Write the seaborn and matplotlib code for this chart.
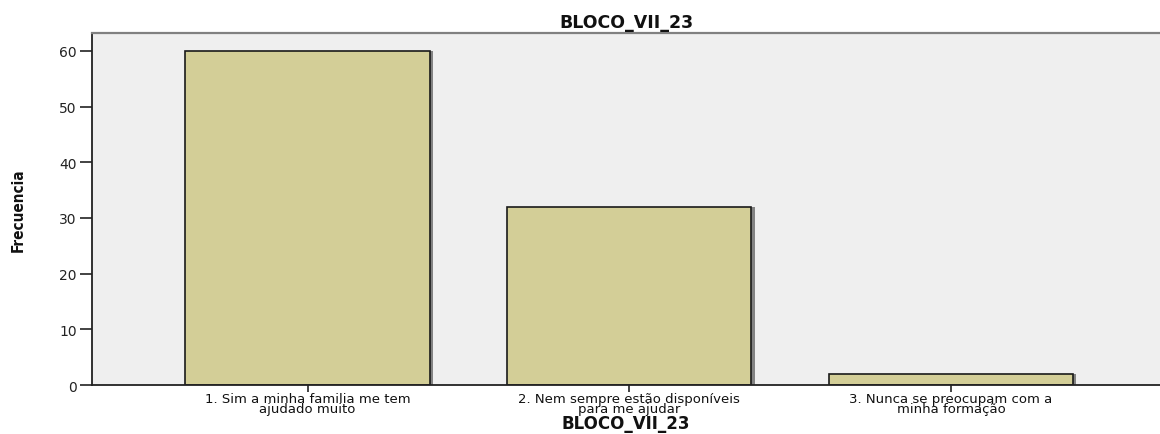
import matplotlib
matplotlib.use("Agg")
import matplotlib.pyplot as plt
import matplotlib.patheffects as pe
import seaborn as sns
import pandas as pd

categories = [
    "1. Sim a minha familia me tem\najudado muito",
    "2. Nem sempre estão disponíveis\npara me ajudar",
    "3. Nunca se preocupam com a\nminha formação",
]
counts = [60, 32, 2]
yticks = [0, 10, 20, 30, 40, 50, 60]

df = pd.DataFrame({"categoria": categories, "frecuencia": counts})

sns.set_theme(style="white")
plt.rcParams["font.family"] = ["DejaVu Sans"]

fig = plt.figure(figsize=(11.6, 4.35), dpi=100)
ax = fig.add_axes([0.0793, 0.1126, 0.9207, 0.8092])
ax.set_facecolor("#EFEFEF")

sns.barplot(data=df, x="categoria", y="frecuencia", color="#D3CE97",
            saturation=1, width=0.76, edgecolor="#1a1a1a", linewidth=1.2,
            ax=ax)

for patch in ax.patches:
    patch.set_path_effects([
        pe.SimplePatchShadow(offset=(2.2, 0), shadow_rgbFace="#555555", alpha=0.7),
        pe.Normal(),
    ])

ax.set_xlim(-0.67, 2.65)
ax.set_ylim(0, 63.2)
ax.set_yticks(yticks)
ax.set_yticklabels([str(v) for v in yticks], fontsize=10, color="#222222")

for lbl in ax.get_xticklabels():
    lbl.set_fontsize(9.5)
    lbl.set_linespacing(0.72)
    lbl.set_color("#111111")

ax.tick_params(axis="y", direction="out", length=9, width=1.2, color="#222222", pad=2, left=True)
ax.tick_params(axis="x", direction="out", length=5, width=1.2, color="#222222", pad=0, bottom=True)

for side in ["left", "bottom"]:
    ax.spines[side].set_color("#222222")
    ax.spines[side].set_linewidth(1.3)
ax.spines["top"].set_color("#808080")
ax.spines["top"].set_linewidth(1.6)
ax.spines["right"].set_visible(False)

ax.set_xlabel("BLOCO_VII_23", fontsize=12, fontweight="bold", color="#111111")
ax.xaxis.set_label_coords(0.5, -0.108)
ax.xaxis.label.set_va("center")
ax.set_ylabel("Frecuencia", fontsize=11, fontweight="bold", fontstretch="condensed",
              labelpad=24, color="#111111")
ax.set_title("BLOCO_VII_23", fontsize=12.5, fontweight="bold", pad=4, color="#111111")

fig.savefig("out.png", dpi=100)
